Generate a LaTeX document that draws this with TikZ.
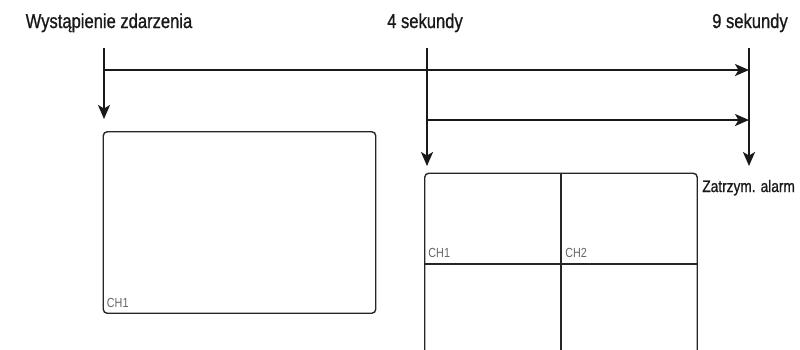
\documentclass[tikz,border=0pt]{standalone}
\usepackage{fontspec}
\setmainfont{Liberation Sans}
\newfontfamily\condfont[FakeStretch=0.82,FakeBold=0.9]{Liberation Sans}
\newfontfamily\chfont[FakeStretch=0.82]{Liberation Sans}
\usetikzlibrary{arrows.meta,positioning}

\begin{document}
\begin{tikzpicture}[
  x=0.2mm,y=-0.2mm,
  every node/.style={inner sep=0pt},
  ttl/.style={font=\condfont\fontsize{11.5}{13}\selectfont,anchor=base,text=black!90},
  scr/.style={draw=black!85,line width=0.28mm,rounded corners=0.8mm,minimum width=54.5mm,minimum height=36.3mm},
  ch/.style={font=\chfont\fontsize{7.5}{8}\selectfont,text=black!60},
  ar/.style={-{Stealth[length=2.8mm,width=2.4mm,inset=0.7mm]},line width=0.4mm,draw=black!90}
]
\useasboundingbox (0,0) rectangle (800,349);
\clip (0,0) rectangle (800,349);

% titles
\node[ttl] (ev) at (109,28) {Wystąpienie zdarzenia};
\node[ttl] (s4) at (425,28) {4 sekundy};
\node[ttl] (s9) at (750,28) {9 sekundy};

% time lines
\coordinate (e0) at (104,48); \coordinate (e1) at (104,119);
\coordinate (f0) at (427,48); \coordinate (f1) at (427,166);
\coordinate (g0) at (749,48); \coordinate (g1) at (749,166);
\coordinate (h0) at (104,70); \coordinate (h1) at (749,70);
\coordinate (k0) at (427,120); \coordinate (k1) at (749,120);
\draw[ar] (e0) -- (e1);
\draw[ar] (f0) -- (f1);
\draw[ar] (g0) -- (g1);
\draw[ar] (h0) -- (h1);
\draw[ar] (k0) -- (k1);

\node[font=\condfont\fontsize{9.5}{11}\selectfont,text=black!90,anchor=base west] (stop) at (702,192) {Zatrzym. alarm};

% screens
\node[scr] (mon1) at (239.5,222.5) {};
\node[ch,above right=1.2mm and 0.8mm of mon1.south west] (c1) {CH1};

\node[scr] (mon4) at (561,264) {};
\draw[black!85,line width=0.28mm] (mon4.north) -- (mon4.south);
\draw[black!85,line width=0.28mm] (mon4.west) -- (mon4.east);
\node[ch,above right=1.2mm and 0.8mm of mon4.west] (c41) {CH1};
\node[ch,above right=1.2mm and 0.8mm of mon4.center] (c42) {CH2};
\end{tikzpicture}
\end{document}
